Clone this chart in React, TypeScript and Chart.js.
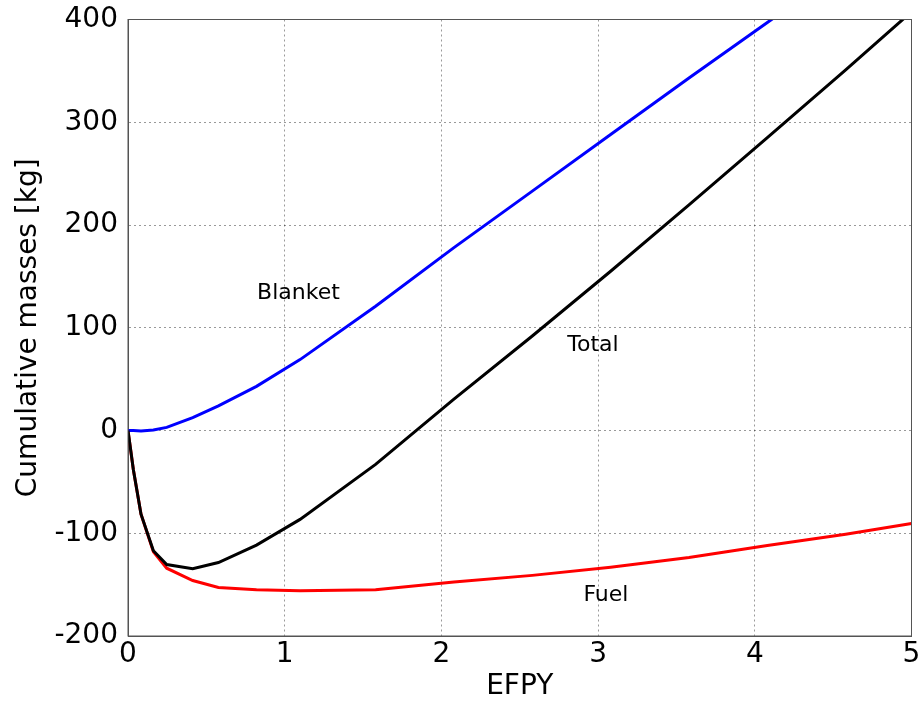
import React, { useEffect, useRef } from "react";
import { Chart, registerables } from "chart.js";

Chart.register(...registerables);

const efpy = [0, 0.034, 0.083, 0.162, 0.247, 0.413, 0.577, 0.82, 1.098, 1.58, 2.08, 2.58, 3.08, 3.58, 4.08, 4.58, 5.0];
const blanket = [0, 0, -0.5, 0.5, 3, 12.5, 24, 43, 69, 121, 178, 233, 288, 343, 397, 452, 498];
const fuel = [0, -38, -81.5, -118, -134, -146, -152.7, -155, -156, -155, -147.5, -141, -133, -123.5, -112, -101, -90.5];
const total = [0, -38, -81.5, -117, -130.5, -134.5, -128.5, -111.5, -86.5, -33, 30.5, 92, 155, 219.5, 285, 351, 407.5];

const xTicks = [0, 1, 2, 3, 4, 5];
const yTicks = [-200, -100, 0, 100, 200, 300, 400];

const labels = [
  { text: "Blanket", x: 1.088, y: 133.5 },
  { text: "Total", x: 2.967, y: 83 },
  { text: "Fuel", x: 3.05, y: -160.5 },
];

const toPts = (ys: number[]) => efpy.map((x, i) => ({ x, y: ys[i] }));

export default function App() {
  const ref = useRef<HTMLCanvasElement | null>(null);
  useEffect(() => {
    document.body.style.margin = "0";
    const font = "'DejaVu Sans', sans-serif";
    const framePlugin = {
      id: "frameAndLabels",
      afterDatasetsDraw(chart: any) {
        const { ctx, chartArea, scales } = chart;
        ctx.save();
        ctx.strokeStyle = "#555";
        ctx.lineWidth = 1;
        ctx.strokeRect(chartArea.left, chartArea.top, chartArea.right - chartArea.left, chartArea.bottom - chartArea.top);
        ctx.fillStyle = "#000";
        ctx.font = `22px ${font}`;
        ctx.textAlign = "center";
        ctx.textBaseline = "middle";
        for (const l of labels) {
          ctx.fillText(l.text, scales.x.getPixelForValue(l.x), scales.y.getPixelForValue(l.y));
        }
        ctx.restore();
      },
    };
    const gridCfg = {
      color: "rgba(0,0,0,0.4)",
      lineWidth: 1,
      drawTicks: false,
    };
    const chart = new Chart(ref.current!, {
      type: "line",
      data: {
        datasets: [
          { label: "Total", data: toPts(total), borderColor: "#000000", borderWidth: 3, pointRadius: 0, tension: 0, clip: 0 },
          { label: "Blanket", data: toPts(blanket), borderColor: "#0000ff", borderWidth: 3, pointRadius: 0, tension: 0, clip: 0 },
          { label: "Fuel", data: toPts(fuel), borderColor: "#ff0000", borderWidth: 3, pointRadius: 0, tension: 0, clip: 0 },
        ],
      },
      options: {
        animation: false,
        responsive: false,
        devicePixelRatio: 1,
        layout: { padding: { left: 0, right: 7.5, top: 19.5, bottom: 0 } },
        plugins: { legend: { display: false }, tooltip: { enabled: false } },
        scales: {
          x: {
            type: "linear",
            min: 0,
            max: 5,
            afterBuildTicks: (s: any) => { s.ticks = xTicks.map((v) => ({ value: v })); },
            afterFit: (s: any) => { s.height = 68; s.paddingLeft = 0; s.paddingRight = 0; },
            ticks: { font: { family: font, size: 28 }, color: "#000", padding: 2, maxRotation: 0 },
            grid: { ...gridCfg } as any,
            border: { display: true, color: "#555", dash: [2, 3] },
            title: { display: true, text: "EFPY", font: { family: font, size: 28 }, color: "#000", padding: { top: 4, bottom: 0 } },
          },
          y: {
            type: "linear",
            min: -200,
            max: 400,
            afterBuildTicks: (s: any) => { s.ticks = yTicks.map((v) => ({ value: v })); },
            afterFit: (s: any) => { s.width = 128; s.paddingTop = 0; s.paddingBottom = 0; },
            ticks: { font: { family: font, size: 28 }, color: "#000", padding: 10 },
            grid: gridCfg as any,
            border: { display: true, color: "#555", dash: [2, 3] },
            title: { display: true, text: "Cumulative masses [kg]", font: { family: font, size: 28 }, color: "#000", padding: { top: 12, bottom: 0 } },
          },
        },
      },
      plugins: [framePlugin],
    } as any);
    return () => chart.destroy();
  }, []);
  return <canvas ref={ref} width={919} height={704} style={{ display: "block" }} />;
}
